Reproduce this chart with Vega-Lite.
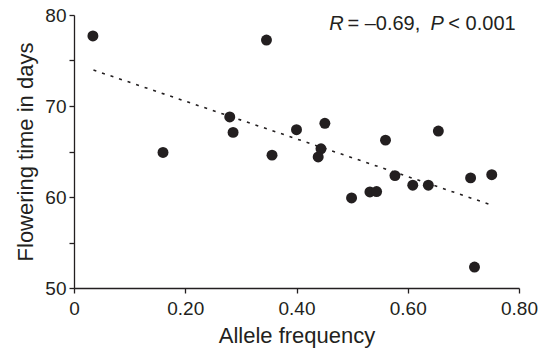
{
  "$schema": "https://vega.github.io/schema/vega-lite/v6.json",
  "width": 445,
  "height": 273,
  "autosize": "none",
  "padding": {"left": 74, "top": 15, "right": 25, "bottom": 62},
  "background": "white",
  "config": {
    "view": {"stroke": null},
    "font": "Liberation Sans",
    "axis": {
      "grid": false,
      "domainColor": "#231f20",
      "domainWidth": 1.3,
      "tickColor": "#231f20",
      "tickWidth": 1.3,
      "tickSize": 5,
      "labelFont": "Liberation Sans",
      "labelFontSize": 19,
      "labelColor": "#231f20",
      "titleFont": "Liberation Sans",
      "titleFontSize": 22,
      "titleFontWeight": "normal",
      "titleColor": "#231f20"
    }
  },
  "layer": [
    {
      "data": {
        "values": [
          {"freq": 0.034, "days": 77.7},
          {"freq": 0.160, "days": 64.9},
          {"freq": 0.346, "days": 77.25},
          {"freq": 0.280, "days": 68.8},
          {"freq": 0.286, "days": 67.1},
          {"freq": 0.400, "days": 67.4},
          {"freq": 0.451, "days": 68.1},
          {"freq": 0.444, "days": 65.3},
          {"freq": 0.439, "days": 64.4},
          {"freq": 0.356, "days": 64.6},
          {"freq": 0.560, "days": 66.25},
          {"freq": 0.655, "days": 67.25},
          {"freq": 0.499, "days": 59.9},
          {"freq": 0.532, "days": 60.55},
          {"freq": 0.544, "days": 60.6},
          {"freq": 0.577, "days": 62.35},
          {"freq": 0.609, "days": 61.3},
          {"freq": 0.637, "days": 61.3},
          {"freq": 0.713, "days": 62.1},
          {"freq": 0.751, "days": 62.45},
          {"freq": 0.720, "days": 52.3}
        ]
      },
      "mark": {"type": "circle", "size": 120, "color": "#231f20", "opacity": 1},
      "encoding": {
        "x": {
          "field": "freq",
          "type": "quantitative",
          "scale": {"domain": [0, 0.8], "nice": false, "zero": false},
          "axis": {
            "title": "Allele frequency",
            "values": [0, 0.2, 0.4, 0.6, 0.8],
            "labelExpr": "datum.value == 0 ? '0' : format(datum.value, '.2f')",
            "labelPadding": 6,
            "labelFlush": false,
            "titleY": 54,
            "titleBaseline": "alphabetic"
          }
        },
        "y": {
          "field": "days",
          "type": "quantitative",
          "scale": {"domain": [50, 80], "nice": false, "zero": false},
          "axis": {
            "title": "Flowering time in days",
            "values": [50, 55, 60, 65, 70, 75, 80],
            "labelExpr": "datum.value % 10 == 0 ? datum.label : ''",
            "labelPadding": 3,
            "labelFlush": false,
            "titleX": -41.5,
            "titleBaseline": "alphabetic"
          }
        }
      }
    },
    {
      "data": {"values": [{"freq": 0.035, "days": 73.95}, {"freq": 0.745, "days": 59.24}]},
      "mark": {"type": "line", "color": "#231f20", "strokeWidth": 1.6, "strokeDash": [3, 6]},
      "encoding": {
        "x": {"field": "freq", "type": "quantitative"},
        "y": {"field": "days", "type": "quantitative"}
      }
    },
    {
      "data": {"values": [{"freq": 0.459, "days": 78.35, "t": "R"}, {"freq": 0.641, "days": 78.35, "t": "P"}]},
      "mark": {"type": "text", "align": "left", "baseline": "alphabetic", "fontSize": 20, "fontStyle": "italic", "color": "#231f20"},
      "encoding": {
        "x": {"field": "freq", "type": "quantitative"},
        "y": {"field": "days", "type": "quantitative"},
        "text": {"field": "t"}
      }
    },
    {
      "data": {"values": [{"freq": 0.4915, "days": 78.35, "t": "= –0.69,"}, {"freq": 0.673, "days": 78.35, "t": "< 0.001"}]},
      "mark": {"type": "text", "align": "left", "baseline": "alphabetic", "fontSize": 20, "color": "#231f20"},
      "encoding": {
        "x": {"field": "freq", "type": "quantitative"},
        "y": {"field": "days", "type": "quantitative"},
        "text": {"field": "t"}
      }
    }
  ]
}
